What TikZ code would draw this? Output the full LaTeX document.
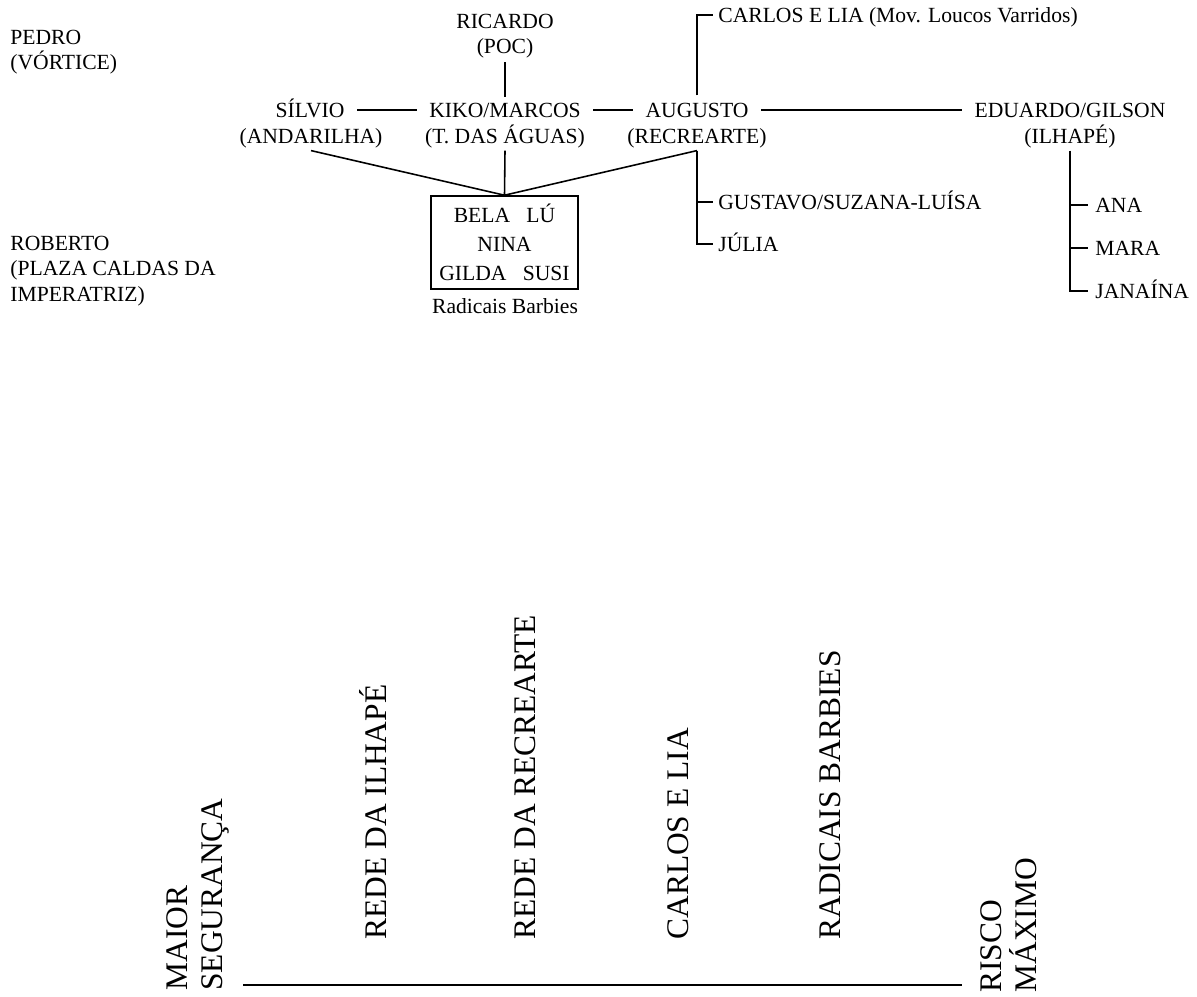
\documentclass[tikz,border=0pt]{standalone}
\usepackage{fontspec}
\setmainfont{Liberation Serif}
\usetikzlibrary{positioning}

\tikzset{
  rotulo/.style={font=\fontsize{12.3}{14.5}\selectfont, inner sep=0pt, text height=8.2pt, text depth=0pt},
  bloco/.style={font=\fontsize{12.3}{14.5}\selectfont, inner sep=0pt, align=left, anchor=west},
  liga/.style={line width=0.9pt, shorten <=7pt, shorten >=7pt},
  ramo/.style={line width=0.9pt},
  eixo/.style={rotate=90, font=\fontsize{17.9}{19.9}\selectfont, inner sep=0pt}
}

\begin{document}
\begin{tikzpicture}[x=0.02cm, y=-0.02cm]
\useasboundingbox (0,0) rectangle (1197,997);

\node[bloco] (pedro) at (10,52) {PEDRO\\(VÓRTICE)};
\node[bloco] (roberto) at (10,271) {ROBERTO\\(PLAZA CALDAS DA\\IMPERATRIZ)};

\node[rotulo] (ricardo) at (505,21) {RICARDO};
\node[rotulo] (poc) at (505,46) {(POC)};

\node[rotulo] (silvio) at (310,110) {SÍLVIO};
\node[rotulo] (andarilha) at (311,136) {(ANDARILHA)};
\node[rotulo] (kiko) at (505,110) {KIKO/MARCOS};
\node[rotulo] (aguas) at (505,136) {(T. DAS ÁGUAS)};
\node[rotulo] (augusto) at (697,110) {AUGUSTO};
\node[rotulo] (recrearte) at (697,136) {(RECREARTE)};
\node[rotulo] (eduardo) at (1070,110) {EDUARDO/GILSON};
\node[rotulo] (ilhape) at (1070,136) {(ILHAPÉ)};

\node[rotulo, anchor=west] (carlos) at (718,15) {CARLOS E LIA (Mov. Loucos Varridos)};
\node[rotulo, anchor=west] (gustavo) at (718,202) {GUSTAVO/SUZANA-LUÍSA};
\node[rotulo, anchor=west] (julia) at (718,244) {JÚLIA};
\node[rotulo, anchor=west] (ana) at (1095,205) {ANA};
\node[rotulo, anchor=west] (mara) at (1095,248) {MARA};
\node[rotulo, anchor=west] (janaina) at (1095,291) {JANAÍNA};

\node[draw, line width=0.9pt, minimum width=2.94cm, minimum height=1.86cm, align=center,
  font=\fontsize{12.3}{16.5}\selectfont] (barbies) at (504.5,242.5)
  {BELA\hspace{0.75em}LÚ\\NINA\\GILDA\hspace{0.75em}SUSI};
\node[rotulo] (radicais) at (505,306) {Radicais Barbies};

\coordinate[below=4pt of andarilha] (sj);
\coordinate[below=4pt of aguas] (aj);
\coordinate[below=4pt of recrearte] (rj);
\coordinate[above=4pt of augusto] (cj);
\coordinate[below=4pt of ilhape] (ej);

\draw[liga, shorten <=5pt, shorten >=3pt] (poc) -- (kiko);
\draw[liga] (silvio) -- (kiko);
\draw[liga] (kiko) -- (augusto);
\draw[liga] (augusto) -- (eduardo);

\draw[ramo] (sj) -- (barbies.north);
\draw[ramo] (aj) -- (barbies.north);
\draw[ramo] (rj) -- (barbies.north);

\draw[ramo, shorten >=3pt] (cj) |- (carlos.west);
\draw[ramo, shorten >=3pt] (rj) |- (julia.west);
\draw[ramo, shorten >=3pt] (rj |- gustavo.west) -- (gustavo.west);

\draw[ramo, shorten >=4pt] (ej) |- (janaina.west);
\draw[ramo, shorten >=4pt] (ej |- ana.west) -- (ana.west);
\draw[ramo, shorten >=4pt] (ej |- mara.west) -- (mara.west);

\node[eixo, anchor=west, align=left] (maior) at (198,991) {MAIOR\\SEGURANÇA};
\node[eixo, anchor=base west] (redeIlhape) at (386,940) {REDE DA ILHAPÉ};
\node[eixo, anchor=base west] (redeRecrearte) at (535,940) {REDE DA RECREARTE};
\node[eixo, anchor=base west] (carlosLia) at (688,940) {CARLOS E LIA};
\node[eixo, anchor=base west] (radicaisB) at (840,940) {RADICAIS BARBIES};
\node[eixo, anchor=west, align=left] (risco) at (1009,993) {RISCO\\MÁXIMO};

\coordinate (esq) at (243,985);
\coordinate (dir) at (962,985);
\draw[ramo] (esq) -- (dir);

\end{tikzpicture}
\end{document}
